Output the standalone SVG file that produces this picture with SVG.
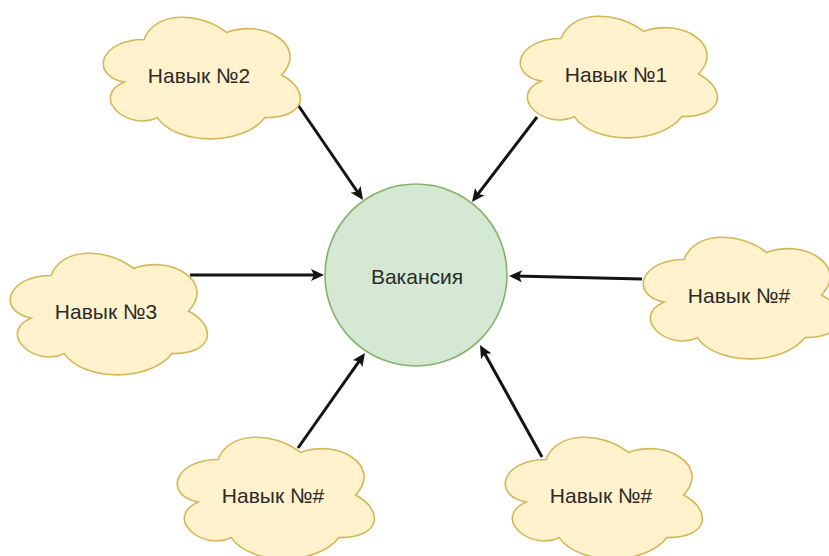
<svg xmlns="http://www.w3.org/2000/svg" xmlns:xlink="http://www.w3.org/1999/xlink" width="829" height="556" viewBox="0 0 829 556">
  <style>
    .cloud { fill: #fff2cc; stroke: #d6b656; stroke-width: 1.6; }
    .vac { fill: #d5e8d4; stroke: #82b366; stroke-width: 1.6; }
    .lbl { font-family: "Liberation Sans", Arial, sans-serif; font-size: 21px; fill: #2b2b2b; text-anchor: middle; }
    .edge { fill: none; stroke: #141414; stroke-width: 3; }
  </style>
  <defs>
    <!-- cloud outline, 220 x 142 box -->
    <path id="cloudShape" d="M55,35.5 C11,35.5 0,71 35.2,78.1 C0,93.7 39.6,127.8 68.2,113.6 C88,142 154,142 176,113.6 C220,113.6 220,85.2 192.5,71 C220,42.6 176,14.2 137.5,28.4 C110,7.1 66,7.1 55,35.5 Z"/>
    <marker id="arrow" markerUnits="userSpaceOnUse" markerWidth="14" markerHeight="13" refX="7" refY="6" orient="auto" viewBox="0 0 14 12">
      <path d="M0,0 L13,6 L0,12 L3,6 Z" fill="#141414"/>
    </marker>
  </defs>

  <g id="edges">
    <line class="edge" x1="298" y1="105" x2="359.6" y2="195" marker-end="url(#arrow)"/>
    <line class="edge" x1="537" y1="117" x2="475.6" y2="197.2" marker-end="url(#arrow)"/>
    <line class="edge" x1="190" y1="275" x2="318" y2="275" marker-end="url(#arrow)"/>
    <line class="edge" x1="642" y1="279" x2="515" y2="276.1" marker-end="url(#arrow)"/>
    <line class="edge" x1="298" y1="448" x2="361.5" y2="357.9" marker-end="url(#arrow)"/>
    <line class="edge" x1="542" y1="457" x2="482.9" y2="350.2" marker-end="url(#arrow)"/>
  </g>

  <g id="vacancy">
    <circle class="vac" cx="416" cy="275" r="91"/>
    <text class="lbl" x="417" y="284">Вакансия</text>
  </g>

  <g id="skill2">
    <use xlink:href="#cloudShape" class="cloud" transform="translate(89,4)"/>
    <text class="lbl" x="199" y="83">Навык №2</text>
  </g>

  <g id="skill1">
    <use xlink:href="#cloudShape" class="cloud" transform="translate(506,3)"/>
    <text class="lbl" x="616" y="82">Навык №1</text>
  </g>

  <g id="skill3">
    <use xlink:href="#cloudShape" class="cloud" transform="translate(-4,240)"/>
    <text class="lbl" x="106" y="319">Навык №3</text>
  </g>

  <g id="skillRight">
    <use xlink:href="#cloudShape" class="cloud" transform="translate(629,224)"/>
    <text class="lbl" x="739" y="303">Навык №#</text>
  </g>

  <g id="skillBottomLeft">
    <use xlink:href="#cloudShape" class="cloud" transform="translate(163,424)"/>
    <text class="lbl" x="273" y="503">Навык №#</text>
  </g>

  <g id="skillBottomRight">
    <use xlink:href="#cloudShape" class="cloud" transform="translate(491,424)"/>
    <text class="lbl" x="601" y="503">Навык №#</text>
  </g>
</svg>
